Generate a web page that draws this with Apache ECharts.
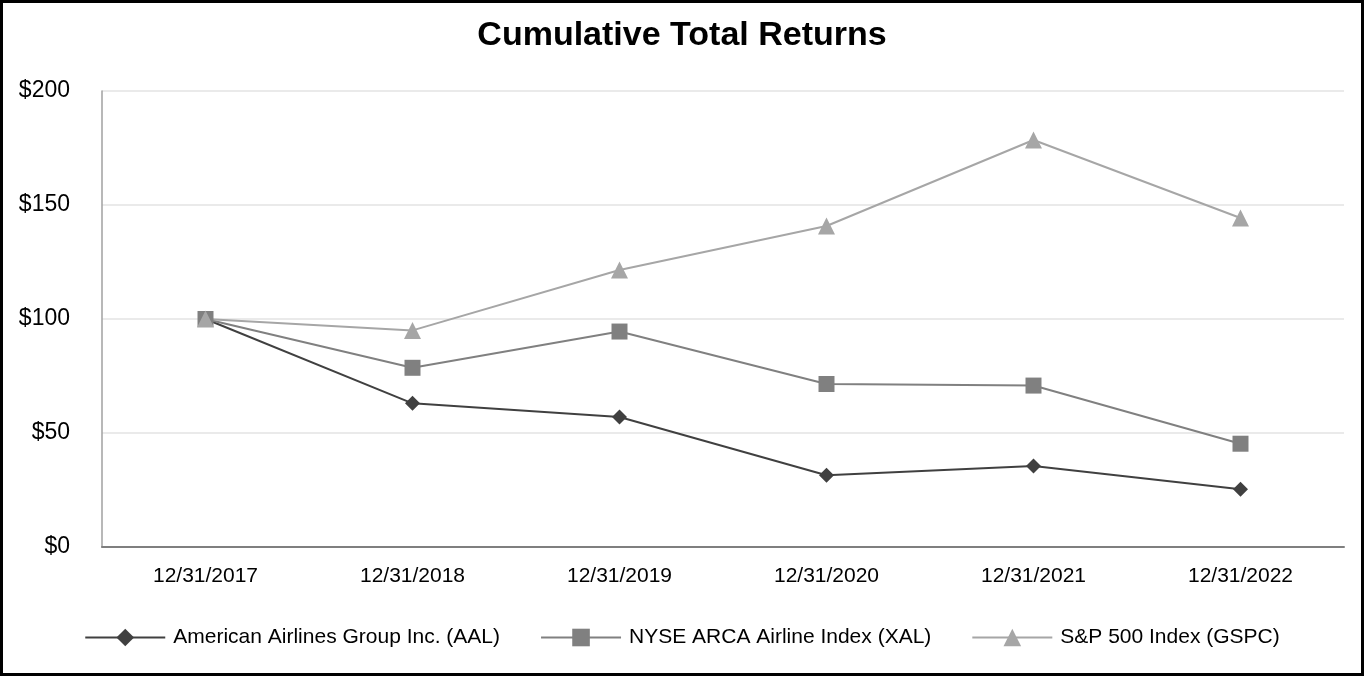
<!DOCTYPE html>
<html><head><meta charset="utf-8">
<script src="https://cdn.jsdelivr.net/npm/echarts@6/dist/echarts.min.js"></script>
<style>
html,body{margin:0;padding:0;background:#fff;}
#frame{width:1364px;height:676px;box-sizing:border-box;border:3px solid #000;position:relative;}
#chart{position:absolute;left:-3px;top:-3px;width:1364px;height:676px;}
</style></head>
<body><div id="frame"><div id="chart"></div></div>
<script>
const categories = ['12/31/2017','12/31/2018','12/31/2019','12/31/2020','12/31/2021','12/31/2022'];
const aal = [100, 63, 57, 31.5, 35.5, 25.3];
const xal = [100, 78.6, 94.5, 71.5, 70.8, 45.3];
const gspc = [100, 95, 121.5, 140.8, 178.5, 144.3];
const seriesNames = ['American Airlines Group Inc. (AAL)','NYSE ARCA Airline Index (XAL)','S&P 500 Index (GSPC)'];
const yTicks = [0, 50, 100, 150, 200];

const chart = echarts.init(document.getElementById('chart'), null, {renderer:'canvas'});
const font = 'Liberation Sans, Arial, sans-serif';
function mk(name, data, color, symbol, size){
  return {name, type:'line', data, symbol, symbolSize:size, showSymbol:true,
    lineStyle:{color, width:2}, itemStyle:{color, borderWidth:0}, z: 2};
}
chart.setOption({
  animation:false,
  backgroundColor:'transparent',
  textStyle:{fontFamily:font},
  title:{text:'Cumulative Total Returns', left:'center', top:14,
    textStyle:{fontFamily:font, fontSize:34, fontWeight:'bold', color:'#000'}},
  grid:{left:102, right:20, top:91, bottom:129},
  xAxis:{type:'category', data:categories, boundaryGap:true,
    axisLine:{lineStyle:{color:'#7f7f7f', width:2}},
    axisTick:{show:false},
    axisLabel:{color:'#000', fontSize:21, margin:19, fontFamily:font}},
  yAxis:{type:'value', min:yTicks[0], max:yTicks[yTicks.length-1], interval:50,
    axisLine:{show:true, lineStyle:{color:'#a0a0a0', width:1.5}},
    axisTick:{show:false},
    splitLine:{lineStyle:{color:'#e3e3e3', width:1.5}},
    axisLabel:{color:'#000', fontSize:23, margin:32, fontFamily:font, padding:[3,0,0,0], formatter:v=>'$'+v}},
  legend:{bottom:23, left:'center', itemWidth:80, itemHeight:22, itemGap:40,
    textStyle:{fontSize:21, color:'#000', fontFamily:font, padding:[0,0,0,3]},
    data:seriesNames},
  series:[
    mk(seriesNames[0], aal, '#404040', 'diamond', 15),
    mk(seriesNames[1], xal, '#808080', 'rect', 16),
    mk(seriesNames[2], gspc, '#a6a6a6', 'triangle', 17)
  ]
});
</script></body></html>
